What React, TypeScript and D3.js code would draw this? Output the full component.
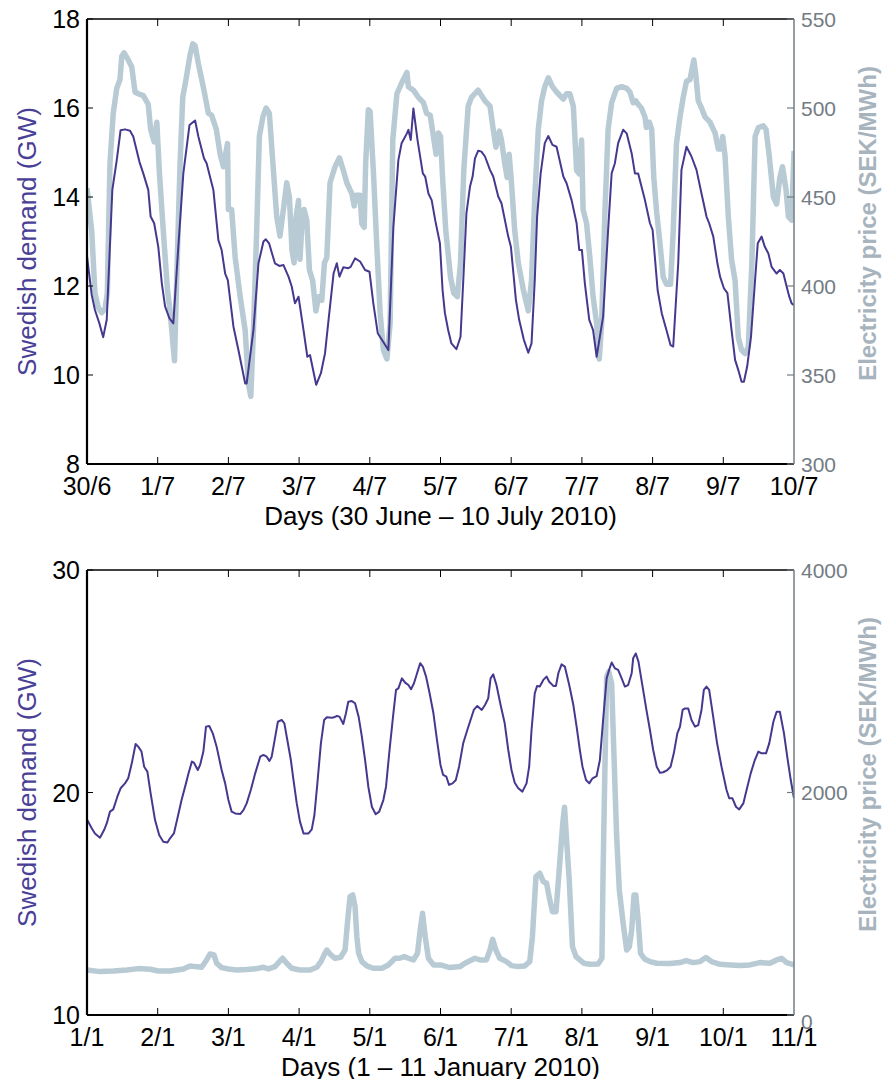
import React, { useRef, useEffect } from 'react';
import * as d3 from 'd3';

// [hour since first tick, value]
const summerDemand: [number, number][] = [
  [0, 12.67], [1.6, 11.8], [2.7, 11.46], [4.2, 11.16], [5.5, 10.85], [6.7, 11.24], [8.6, 14.16], [10.1, 14.83],
  [11.4, 15.5], [12.9, 15.52], [14.6, 15.49], [15.7, 15.36], [17.8, 14.79], [19.1, 14.53], [20.8, 14.16], [21.6, 13.56],
  [22.8, 13.41], [24.2, 12.88], [25.4, 12.06], [26.5, 11.54], [28.0, 11.27], [29.3, 11.16], [31.0, 12.88], [32.7, 14.53],
  [34.8, 15.62], [36.7, 15.72], [37.8, 15.36], [39.7, 14.87], [40.6, 14.76], [42.9, 14.16], [44.6, 13.03], [45.7, 12.81],
  [46.9, 12.28], [47.8, 12.13], [49.7, 11.09], [51.4, 10.56], [53.7, 9.81], [54.2, 9.81], [56.5, 11.01], [58.2, 12.51],
  [59.9, 13.0], [60.7, 13.05], [61.8, 12.96], [63.8, 12.51], [65.3, 12.45], [66.7, 12.47], [68.4, 12.21], [69.5, 11.99],
  [70.6, 11.61], [71.8, 11.76], [72.3, 11.54], [73.5, 11.01], [74.8, 10.41], [75.7, 10.45], [77.8, 9.78], [79.4, 10.04],
  [80.8, 10.49], [82.0, 11.24], [83.7, 12.28], [84.8, 12.51], [85.7, 12.21], [87.0, 12.42], [88.7, 12.4], [89.5, 12.43],
  [91.0, 12.62], [92.7, 12.55], [94.4, 12.36], [95.9, 12.32], [97.2, 11.61], [98.7, 10.94], [100.1, 10.79], [102.3, 10.56],
  [104.0, 13.33], [105.7, 14.83], [106.8, 15.21], [108.6, 15.43], [109.1, 15.51], [109.9, 15.28], [110.8, 15.99], [112.2, 15.28],
  [114.0, 14.53], [114.8, 14.46], [115.9, 14.08], [117.0, 13.93], [118.2, 13.48], [119.8, 12.96], [120.7, 11.91], [121.5, 11.39],
  [122.6, 11.01], [123.7, 10.71], [125.4, 10.58], [126.8, 10.86], [127.9, 12.36], [128.8, 13.63], [130.0, 14.23], [130.9, 14.46],
  [131.7, 14.87], [132.8, 15.04], [133.9, 15.02], [135.1, 14.91], [136.8, 14.61], [137.9, 14.46], [139.6, 14.01], [140.7, 13.86],
  [143.0, 13.11], [143.9, 12.88], [145.6, 11.69], [146.7, 11.24], [148.3, 10.79], [149.8, 10.5], [150.9, 10.71], [152.0, 12.13],
  [152.8, 13.56], [154.0, 14.53], [155.4, 15.21], [156.6, 15.37], [158.0, 15.17], [159.4, 15.13], [161.7, 14.46], [162.8, 14.31],
  [164.5, 13.93], [166.2, 13.41], [167.1, 12.81], [168.0, 12.81], [169.0, 12.06], [170.5, 11.24], [171.8, 11.01], [173.0, 10.41],
  [175.2, 11.31], [176.9, 13.26], [178.1, 14.53], [179.2, 14.76], [180.3, 15.21], [182.0, 15.51], [183.2, 15.43], [184.9, 14.98],
  [186.0, 14.53], [187.1, 14.53], [189.4, 13.93], [191.1, 13.41], [192.0, 13.26], [193.7, 11.91], [195.1, 11.39], [196.7, 11.01],
  [198.1, 10.67], [199.0, 10.64], [200.7, 12.51], [201.8, 14.61], [203.5, 15.13], [205.2, 14.91], [206.9, 14.61], [208.6, 14.08],
  [210.3, 13.56], [211.2, 13.41], [212.6, 13.11], [214.0, 12.51], [214.9, 12.21], [216.2, 11.95], [217.4, 11.84], [218.8, 11.01],
  [220.0, 10.34], [221.1, 10.11], [222.2, 9.85], [223.0, 9.85], [224.1, 10.19], [225.4, 10.86], [226.7, 12.06], [227.7, 12.96],
  [229.0, 13.11], [230.1, 12.88], [231.3, 12.73], [232.4, 12.43], [234.1, 12.28], [235.2, 12.36], [236.4, 12.28], [237.5, 11.99],
  [238.4, 11.76], [239.2, 11.61], [240, 11.57],
];

const summerPrice: [number, number][] = [
  [0, 455], [1.6, 431], [2.7, 396], [3.8, 388], [5.0, 385], [6.1, 387], [6.9, 396], [7.8, 469], [8.9, 497], [10.1, 511],
  [11.2, 516], [11.8, 529], [12.6, 531], [14.0, 527], [15.2, 523], [16.3, 509], [17.4, 508], [19.1, 507], [20.8, 502],
  [21.6, 488], [22.8, 481], [23.7, 492], [24.6, 463], [25.9, 431], [27.3, 398], [28.2, 386], [29.7, 358], [30.5, 407],
  [31.6, 469], [32.5, 506], [33.6, 516], [35.0, 530], [35.9, 536], [36.7, 535], [37.8, 525], [39.7, 510], [41.2, 497],
  [42.3, 496], [43.9, 488], [45.2, 474], [46.3, 467], [47.7, 480], [48.0, 443], [49.1, 443], [50.3, 416], [52.0, 394],
  [53.7, 375], [54.8, 345], [55.6, 338], [56.5, 375], [57.6, 431], [58.5, 484], [59.7, 495], [60.8, 500], [61.9, 497],
  [63.1, 469], [64.4, 439], [65.5, 428], [66.9, 446], [67.8, 458], [68.7, 450], [69.6, 420], [70.3, 413], [71.0, 439],
  [71.8, 448], [72.3, 415], [73.1, 439], [73.7, 443], [74.6, 437], [75.5, 409], [76.6, 403], [77.7, 386], [78.6, 394],
  [79.7, 392], [80.6, 413], [81.4, 416], [82.5, 458], [84.2, 467], [85.7, 472], [87.0, 465], [88.2, 458], [89.3, 454],
  [89.9, 452], [90.7, 445], [91.4, 451], [92.7, 451], [93.3, 435], [94.1, 433], [94.6, 469], [95.5, 499], [96.1, 498],
  [97.2, 465], [98.4, 422], [99.5, 385], [100.6, 364], [101.8, 359], [102.9, 379], [103.8, 482], [105.2, 508], [106.8, 514],
  [108.6, 520], [109.1, 512], [110.8, 510], [112.5, 506], [114.2, 503], [115.3, 497], [116.5, 496], [117.6, 484], [118.5, 474],
  [119.3, 486], [120, 484], [120.7, 461], [121.8, 431], [123.4, 405], [124.5, 396], [125.7, 394], [126.8, 413], [127.9, 465],
  [129.4, 501], [130.5, 506], [132.8, 510], [135.1, 504], [136.8, 501], [137.9, 488], [138.8, 478], [140.0, 487], [140.7, 482],
  [141.8, 469], [142.6, 461], [143.3, 474], [144.1, 458], [145.2, 431], [146.4, 413], [148.1, 398], [149.8, 386], [150.9, 403],
  [152.0, 450], [153.2, 488], [154.3, 504], [155.4, 512], [156.6, 517], [158.0, 512], [159.4, 509], [161.7, 505], [162.8, 508],
  [163.9, 508], [165.1, 501], [166.2, 465], [167.1, 463], [167.9, 482], [168.4, 443], [169.6, 435], [170.7, 416], [171.8, 394],
  [173.0, 379], [173.9, 359], [174.7, 379], [175.8, 441], [176.9, 488], [178.1, 503], [179.8, 511], [181.5, 512], [183.2, 511],
  [184.3, 509], [185.4, 503], [186.3, 504], [187.1, 502], [188.2, 500], [189.4, 495], [189.9, 489], [190.9, 492], [191.7, 488],
  [192.4, 461], [193.4, 441], [194.5, 424], [195.6, 405], [196.7, 401], [198.1, 401], [199.0, 431], [200.1, 480], [201.3, 495],
  [202.4, 506], [203.5, 515], [204.7, 516], [205.5, 523], [206.0, 527], [206.7, 518], [207.5, 504], [208.6, 500], [209.8, 495],
  [211.5, 492], [213.2, 486], [214.3, 477], [215.1, 477], [215.8, 484], [216.6, 473], [217.7, 439], [218.8, 415], [220.0, 403],
  [221.1, 371], [222.2, 364], [223.4, 362], [224.5, 366], [225.7, 413], [226.8, 484], [227.9, 489], [229.6, 490], [230.5, 488],
  [231.6, 473], [233.0, 450], [234.1, 446], [235.2, 461], [236.1, 467], [237.3, 454], [238.1, 439], [239.2, 437], [240, 476],
];

const winterDemand: [number, number][] = [
  [0, 18.79], [1.6, 18.39], [2.7, 18.16], [4.4, 17.97], [5.8, 18.31], [6.7, 18.61], [7.8, 19.14], [8.9, 19.24], [10.3, 19.81],
  [11.4, 20.19], [12.9, 20.41], [14.0, 20.64], [15.2, 21.31], [16.5, 22.18], [17.4, 22.06], [18.5, 21.84], [19.4, 21.16],
  [20.5, 20.94], [21.6, 19.96], [23.1, 18.76], [24.5, 18.09], [25.9, 17.79], [27.3, 17.75], [28.2, 17.94], [29.5, 18.16],
  [30.7, 18.84], [32.1, 19.66], [33.6, 20.41], [34.4, 20.83], [35.6, 21.39], [36.3, 21.34], [37.6, 21.01], [38.4, 21.24],
  [39.5, 21.84], [40.4, 22.96], [41.5, 22.99], [42.7, 22.66], [44.0, 22.06], [45.7, 21.01], [46.9, 20.41], [48.0, 19.66],
  [49.1, 19.14], [50.3, 19.06], [52.0, 19.03], [53.1, 19.21], [54.2, 19.51], [55.6, 20.11], [57.1, 20.86], [58.8, 21.61],
  [59.9, 21.69], [61.0, 21.61], [61.9, 21.42], [62.7, 21.61], [63.8, 22.43], [64.8, 23.18], [66.1, 23.26], [67.0, 23.11],
  [68.0, 22.36], [69.2, 21.46], [70.1, 20.56], [71.2, 19.51], [72.3, 18.69], [73.5, 18.16], [75.2, 18.16], [76.3, 18.34],
  [77.2, 18.99], [78.2, 20.41], [79.4, 22.21], [80.5, 23.26], [81.4, 23.38], [83.1, 23.36], [83.9, 23.38], [84.8, 23.44],
  [85.7, 23.41], [87.0, 23.08], [87.9, 23.56], [88.7, 24.08], [89.9, 24.11], [91.0, 24.01], [92.2, 23.41], [93.3, 22.51],
  [94.4, 21.46], [95.5, 20.26], [96.7, 19.36], [98.0, 19.02], [99.2, 19.14], [100.6, 19.66], [101.5, 20.26], [102.7, 21.91],
  [104.0, 23.56], [104.9, 24.61], [105.7, 24.68], [106.9, 25.13], [108.0, 24.94], [109.1, 24.83], [110.0, 24.64], [111.0, 24.91],
  [112.2, 25.43], [113.1, 25.81], [114.0, 25.66], [115.1, 25.21], [116.3, 24.46], [117.6, 23.56], [118.8, 22.36], [120, 21.24],
  [120.9, 20.79], [122.0, 20.71], [122.9, 20.34], [124.1, 20.41], [125.2, 20.56], [126.3, 21.16], [127.7, 22.21], [129.1, 22.81],
  [130.2, 23.26], [131.3, 23.71], [132.5, 23.89], [134.0, 23.71], [135.1, 23.93], [136.2, 24.23], [137.0, 25.13], [137.9, 25.31],
  [139.0, 24.83], [140.4, 23.93], [141.8, 23.11], [143.0, 21.91], [144.1, 21.01], [145.2, 20.44], [146.4, 20.19], [147.8, 20.04],
  [149.2, 20.41], [150.1, 21.16], [150.9, 22.81], [152.0, 24.46], [152.8, 24.79], [153.7, 24.76], [154.9, 25.06], [156.0, 25.21],
  [156.9, 24.98], [158.3, 24.79], [159.2, 24.79], [160.0, 25.36], [161.1, 25.76], [162.2, 25.66], [163.7, 24.83], [165.1, 23.93],
  [166.2, 22.96], [167.3, 21.91], [168.2, 21.16], [169.4, 20.56], [170.5, 20.41], [171.6, 20.64], [173.0, 20.74], [174.1, 21.46],
  [175.2, 23.26], [176.4, 25.13], [177.3, 25.54], [178.1, 25.84], [179.2, 25.58], [180.3, 25.51], [181.5, 25.13], [182.6, 24.76],
  [183.7, 24.83], [184.9, 25.36], [185.4, 26.03], [186.3, 26.25], [187.2, 25.88], [188.6, 24.76], [189.9, 23.71], [191.1, 22.81],
  [192.2, 21.91], [193.4, 21.16], [194.5, 20.89], [195.6, 20.91], [197.0, 21.01], [198.1, 21.16], [199.2, 21.76], [200.4, 22.66],
  [201.3, 22.96], [202.2, 23.71], [203.0, 23.78], [204.1, 23.78], [205.2, 23.26], [206.4, 22.96], [207.5, 23.03], [208.6, 23.71],
  [209.4, 24.61], [210.3, 24.76], [211.2, 24.61], [212.4, 23.56], [213.9, 22.21], [215.4, 21.16], [217.1, 20.11], [218.0, 19.74],
  [219.1, 19.74], [220.3, 19.36], [221.4, 19.24], [222.8, 19.51], [223.9, 20.11], [225.3, 20.86], [226.7, 21.46], [227.9, 21.84],
  [229.0, 21.76], [230.5, 21.76], [231.6, 22.21], [233.0, 23.18], [234.1, 23.63], [235.2, 23.63], [236.6, 22.66], [237.7, 21.61],
  [238.9, 20.56], [240, 19.74],
];

const winterPrice: [number, number][] = [
  [0, 405], [4.4, 390], [8.9, 396], [13.5, 405], [17.4, 417], [21.4, 411], [24.2, 396], [28.2, 396], [32.7, 414], [35.0, 441],
  [36.7, 435], [38.9, 429], [40.6, 495], [41.8, 549], [43.1, 540], [44.0, 465], [45.7, 426], [48.0, 414], [50.8, 405],
  [54.2, 408], [57.6, 417], [59.9, 429], [61.6, 414], [63.8, 435], [65.3, 480], [66.4, 510], [67.8, 465], [69.5, 420],
  [72.3, 405], [75.7, 405], [78.0, 429], [79.4, 480], [80.5, 540], [81.4, 584], [82.8, 540], [84.2, 510], [86.1, 519],
  [87.6, 584], [88.5, 854], [89.3, 1064], [90.2, 1079], [91.0, 974], [91.6, 704], [92.2, 555], [93.3, 480], [95.0, 441],
  [97.2, 420], [100.1, 420], [102.3, 450], [104.6, 510], [106.1, 510], [107.7, 525], [109.1, 510], [110.8, 495], [112.2, 555],
  [113.1, 764], [113.9, 914], [114.8, 704], [115.9, 510], [117.6, 450], [120, 450], [123.2, 426], [126.6, 435], [128.3, 465],
  [131.7, 510], [133.4, 495], [135.6, 495], [136.8, 584], [137.7, 680], [138.8, 584], [140.1, 510], [142.4, 480], [144.1, 444],
  [146.4, 435], [148.6, 441], [150.3, 480], [151.2, 704], [152.4, 1244], [153.7, 1274], [154.9, 1199], [156.0, 1184],
  [157.1, 1034], [158.0, 929], [159.2, 929], [160.3, 1304], [161.5, 1723], [162.1, 1867], [162.8, 1573], [163.7, 1214],
  [164.8, 614], [166.0, 525], [167.3, 495], [168.7, 465], [170.7, 456], [173.5, 459], [174.8, 510], [175.2, 1304], [175.8, 2202],
  [176.4, 3041], [177.1, 3086], [178.1, 2981], [178.9, 2322], [179.8, 1603], [180.7, 1124], [182.0, 824], [183.2, 584],
  [184.1, 614], [184.9, 764], [185.7, 1079], [186.3, 1079], [187.1, 854], [187.9, 555], [189.4, 501], [191.1, 480], [193.4, 465],
  [197.9, 462], [201.3, 471], [203.4, 489], [205.8, 471], [208.1, 480], [210.1, 516], [212.0, 480], [214.9, 456], [218.3, 450],
  [221.7, 444], [225.0, 450], [228.4, 471], [231.8, 465], [234.1, 495], [235.8, 510], [237.5, 471], [240, 450],
];

const summerDays = ['30/6', '1/7', '2/7', '3/7', '4/7', '5/7', '6/7', '7/7', '8/7', '9/7', '10/7'];
const winterDays = ['1/1', '2/1', '3/1', '4/1', '5/1', '6/1', '7/1', '8/1', '9/1', '10/1', '11/1'];
const summerDemandTicks = [8, 10, 12, 14, 16, 18];
const summerPriceTicks = [300, 350, 400, 450, 500, 550];
const winterDemandTicks = [10, 20, 30];
const winterPriceTicks = [0, 2000, 4000];

const DEMAND_COLOR = '#45398f';
const PRICE_COLOR = '#b8cad4';
const RIGHT_AXIS = '#737c84';
const RIGHT_TITLE = '#a7b4bd';
const FONT = '"Liberation Sans", Arial, Helvetica, sans-serif';

const App = () => {
  const ref = useRef<SVGSVGElement>(null);

  useEffect(() => {
    document.body.style.margin = '0';
    const svg = d3.select(ref.current);
    svg.selectAll('*').remove();

    const left = 87, right = 794;

    const panel = (id: string, top: number, bottom: number, demand: [number, number][], price: [number, number][],
      days: string[], demandTicks: number[], priceTicks: number[], title: string) => {
      const x = d3.scaleLinear().domain([0, 240]).range([left, right]);
      const yL = d3.scaleLinear().domain(d3.extent(demandTicks) as [number, number]).range([bottom, top]);
      const yR = d3.scaleLinear().domain(d3.extent(priceTicks) as [number, number]).range([bottom, top]);
      const g = svg.append('g');

      g.append('clipPath').attr('id', id).append('rect')
        .attr('x', left).attr('y', top).attr('width', right - left).attr('height', bottom - top);

      // price (thick) first, demand on top
      g.append('path').datum(price)
        .attr('clip-path', `url(#${id})`)
        .attr('d', d3.line<[number, number]>().x(d => x(d[0])).y(d => yR(d[1])))
        .attr('fill', 'none').attr('stroke', PRICE_COLOR).attr('stroke-width', 5.5)
        .attr('stroke-linejoin', 'round');
      g.append('path').datum(demand)
        .attr('clip-path', `url(#${id})`)
        .attr('d', d3.line<[number, number]>().x(d => x(d[0])).y(d => yL(d[1])))
        .attr('fill', 'none').attr('stroke', DEMAND_COLOR).attr('stroke-width', 2)
        .attr('stroke-linejoin', 'round');

      // box lines
      g.append('line').attr('x1', left).attr('x2', right).attr('y1', top).attr('y2', top)
        .attr('stroke', '#000').attr('stroke-width', 1.5);
      g.append('line').attr('x1', left).attr('x2', right).attr('y1', bottom).attr('y2', bottom)
        .attr('stroke', '#000').attr('stroke-width', 2.2);
      g.append('line').attr('x1', left).attr('x2', left).attr('y1', top).attr('y2', bottom)
        .attr('stroke', '#000').attr('stroke-width', 2.2);
      g.append('line').attr('x1', right).attr('x2', right).attr('y1', top).attr('y2', bottom)
        .attr('stroke', RIGHT_AXIS).attr('stroke-width', 1.5);

      // x ticks
      days.forEach((lab, i) => {
        const xi = x(i * 24);
        if (i > 0 && i < days.length - 1) {
          g.append('line').attr('x1', xi).attr('x2', xi).attr('y1', bottom).attr('y2', bottom - 7)
            .attr('stroke', '#000').attr('stroke-width', 1);
          g.append('line').attr('x1', xi).attr('x2', xi).attr('y1', top).attr('y2', top + 7)
            .attr('stroke', '#000').attr('stroke-width', 1);
        }
        g.append('text').attr('x', xi).attr('y', bottom + 31)
          .attr('text-anchor', 'middle').attr('font-size', 25).attr('font-family', FONT)
          .attr('fill', '#000').text(lab);
      });

      // left ticks
      demandTicks.forEach(v => {
        g.append('line').attr('x1', left).attr('x2', left + 6).attr('y1', yL(v)).attr('y2', yL(v))
          .attr('stroke', '#000').attr('stroke-width', 1);
        g.append('text').attr('x', 80).attr('y', yL(v)).attr('dy', '0.36em')
          .attr('text-anchor', 'end').attr('font-size', 25).attr('font-family', FONT)
          .attr('fill', '#000').text(v);
      });

      // right ticks
      priceTicks.forEach(v => {
        g.append('line').attr('x1', right - 7).attr('x2', right).attr('y1', yR(v)).attr('y2', yR(v))
          .attr('stroke', RIGHT_AXIS).attr('stroke-width', 1.2);
        g.append('text').attr('x', 801).attr('y', yR(v) + (v === 0 ? 6 : 0)).attr('dy', '0.36em')
          .attr('text-anchor', 'start').attr('font-size', 21).attr('font-family', FONT)
          .attr('fill', RIGHT_AXIS).text(v);
      });

      // axis titles
      g.append('text').attr('x', (left + right) / 2).attr('y', bottom + 61)
        .attr('text-anchor', 'middle').attr('font-size', 26).attr('font-family', FONT)
        .attr('fill', '#000').text(title);
      const mid = (top + bottom) / 2;
      g.append('text').attr('transform', `translate(36,${mid}) rotate(-90)`)
        .attr('text-anchor', 'middle').attr('font-size', 26).attr('font-family', FONT)
        .attr('fill', '#4a3f97').text('Swedish demand (GW)');
      g.append('text').attr('transform', `translate(876,${mid - 18}) rotate(-90)`)
        .attr('text-anchor', 'middle').attr('font-size', 24).attr('font-weight', 'bold').attr('font-family', FONT)
        .attr('fill', RIGHT_TITLE).text('Electricity price (SEK/MWh)');
    };

    panel('clipTop', 19, 464, summerDemand, summerPrice, summerDays, summerDemandTicks, summerPriceTicks,
      'Days (30 June \u2013 10 July 2010)');
    panel('clipBottom', 570, 1015, winterDemand, winterPrice, winterDays, winterDemandTicks, winterPriceTicks,
      'Days (1 \u2013 11 January 2010)');
  }, []);

  return <svg ref={ref} width={884} height={1079} style={{ display: 'block' }} />;
};

export default App;
